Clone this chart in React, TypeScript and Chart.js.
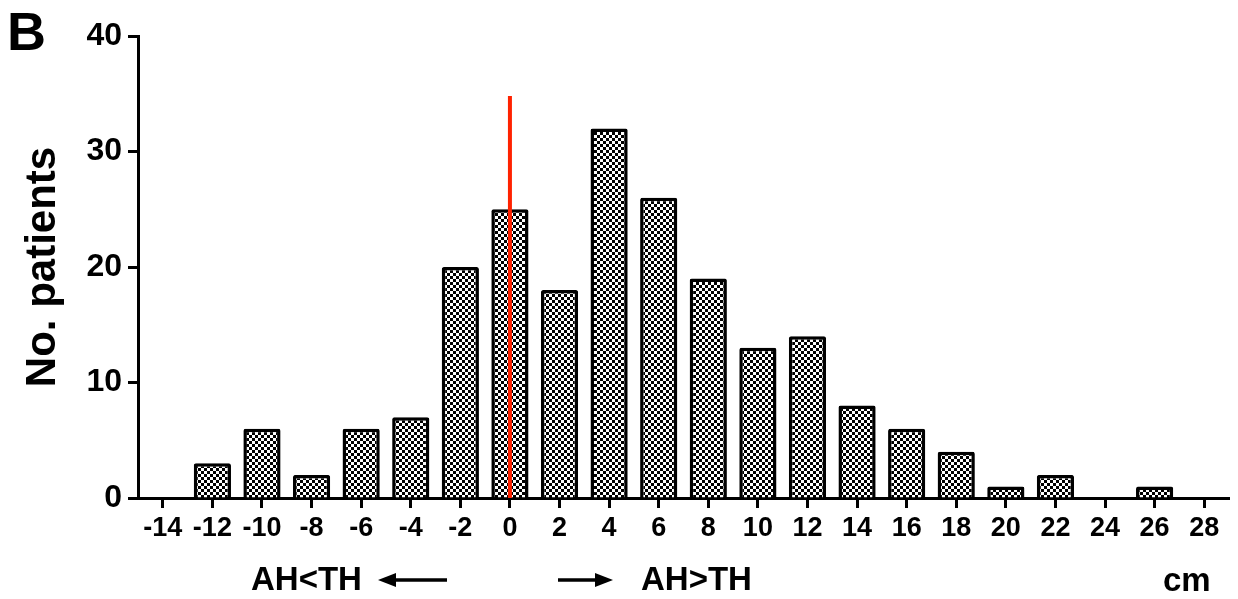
import React, { useEffect, useRef } from "react";
import { Chart, registerables } from "chart.js";

Chart.register(...registerables);

const categories = ["-14", "-12", "-10", "-8", "-6", "-4", "-2", "0", "2", "4", "6", "8", "10", "12", "14", "16", "18", "20", "22", "24", "26", "28"];
const patientCounts = [0, 3, 6, 2, 6, 7, 20, 25, 18, 32, 26, 19, 13, 14, 8, 6, 4, 1, 2, 0, 1, 0];
const yTicks = [0, 10, 20, 30, 40];
const referenceCategory = "0";
const referenceTop = 34.8;
const yTitle = "No. patients";
const panelLabel = "B";
const leftNote = "AH<TH";
const rightNote = "AH>TH";
const unitLabel = "cm";

const FONT = "'Liberation Sans', Arial, Helvetica, sans-serif";

function makePattern(): CanvasPattern | string {
  const cell = 3;
  const c = document.createElement("canvas");
  c.width = cell * 2;
  c.height = cell * 2;
  const g = c.getContext("2d");
  if (!g) return "#888";
  g.fillStyle = "#ffffff";
  g.fillRect(0, 0, cell * 2, cell * 2);
  g.fillStyle = "#000000";
  g.fillRect(0, 0, cell, cell);
  g.fillRect(cell, cell, cell, cell);
  const p = g.createPattern(c, "repeat");
  return p || "#888";
}

const drawArrow = (ctx: CanvasRenderingContext2D, x1: number, x2: number, y: number) => {
  const dir = x2 > x1 ? 1 : -1;
  const headLen = 18;
  const headHalf = 7;
  ctx.save();
  ctx.strokeStyle = "#000";
  ctx.fillStyle = "#000";
  ctx.lineWidth = 3.5;
  ctx.beginPath();
  ctx.moveTo(x1, y);
  ctx.lineTo(x2 - dir * headLen + dir * 2, y);
  ctx.stroke();
  ctx.beginPath();
  ctx.moveTo(x2, y);
  ctx.lineTo(x2 - dir * headLen, y - headHalf);
  ctx.lineTo(x2 - dir * headLen, y + headHalf);
  ctx.closePath();
  ctx.fill();
  ctx.restore();
};

const annotationPlugin = {
  id: "annotations",
  afterDatasetsDraw(chart: any) {
    const ctx: CanvasRenderingContext2D = chart.ctx;
    const xs = chart.scales.x;
    const ys = chart.scales.y;
    const idx = categories.indexOf(referenceCategory);
    const px = xs.getPixelForValue(idx);
    ctx.save();
    ctx.strokeStyle = "#ff2200";
    ctx.lineWidth = 4;
    ctx.beginPath();
    ctx.moveTo(px, ys.getPixelForValue(0));
    ctx.lineTo(px, ys.getPixelForValue(referenceTop));
    ctx.stroke();
    ctx.restore();
  },
  afterDraw(chart: any) {
    const ctx: CanvasRenderingContext2D = chart.ctx;
    ctx.save();
    ctx.fillStyle = "#000";
    ctx.textBaseline = "alphabetic";
    ctx.textAlign = "left";
    ctx.font = `bold 54px ${FONT}`;
    ctx.fillText(panelLabel, 7, 50);
    ctx.font = `bold 33px ${FONT}`;
    ctx.fillText(leftNote, 251, 590);
    ctx.fillText(rightNote, 641, 590);
    ctx.fillText(unitLabel, 1163, 591);
    ctx.restore();
    drawArrow(ctx, 447, 378, 580);
    drawArrow(ctx, 558, 613, 580);
  },
};

export default function App() {
  const ref = useRef<HTMLCanvasElement | null>(null);
  useEffect(() => {
    if (!ref.current) return;
    const pattern = makePattern();
    const chart = new Chart(ref.current, {
      type: "bar",
      data: {
        labels: categories,
        datasets: [
          {
            data: patientCounts,
            backgroundColor: pattern as any,
            borderColor: "#000",
            borderWidth: 3.5,
            borderRadius: 2,
            categoryPercentage: 1,
            barPercentage: 0.75,
          },
        ],
      },
      options: {
        animation: false,
        responsive: false,
        devicePixelRatio: 1,
        layout: { padding: { top: 36, right: 9, left: 0, bottom: 0 } },
        plugins: { legend: { display: false }, tooltip: { enabled: false } },
        scales: {
          x: {
            type: "category",
            offset: true,
            grid: {
              offset: false,
              drawOnChartArea: false,
              drawTicks: true,
              tickLength: 10,
              tickWidth: 3,
              tickColor: "#000",
            },
            border: { display: true, color: "#000", width: 3 },
            ticks: {
              color: "#000",
              autoSkip: false,
              maxRotation: 0,
              padding: 4,
              font: { family: FONT, size: 27, weight: "bold" },
            },
            afterFit: (s: any) => {
              s.height = 101;
            },
          },
          y: {
            min: 0,
            max: 40,
            afterBuildTicks: (s: any) => {
              s.ticks = yTicks.map((v) => ({ value: v }));
            },
            grid: {
              drawOnChartArea: false,
              drawTicks: true,
              tickLength: 10,
              tickWidth: 3,
              tickColor: "#000",
            },
            border: { display: true, color: "#000", width: 3 },
            ticks: {
              color: "#000",
              padding: 6,
              font: { family: FONT, size: 32, weight: "bold" },
            },
            title: {
              display: true,
              text: yTitle,
              color: "#000",
              padding: { top: 18, bottom: 0 },
              font: { family: FONT, size: 42, weight: "bold" },
            },
            afterFit: (s: any) => {
              s.width = 138;
            },
          },
        },
      },
      plugins: [annotationPlugin],
    });
    return () => chart.destroy();
  }, []);
  return (
    <div style={{ position: "fixed", left: 0, top: 0, width: 1238, height: 599, background: "#fff" }}>
      <canvas ref={ref} width={1238} height={599} style={{ display: "block" }} />
    </div>
  );
}
